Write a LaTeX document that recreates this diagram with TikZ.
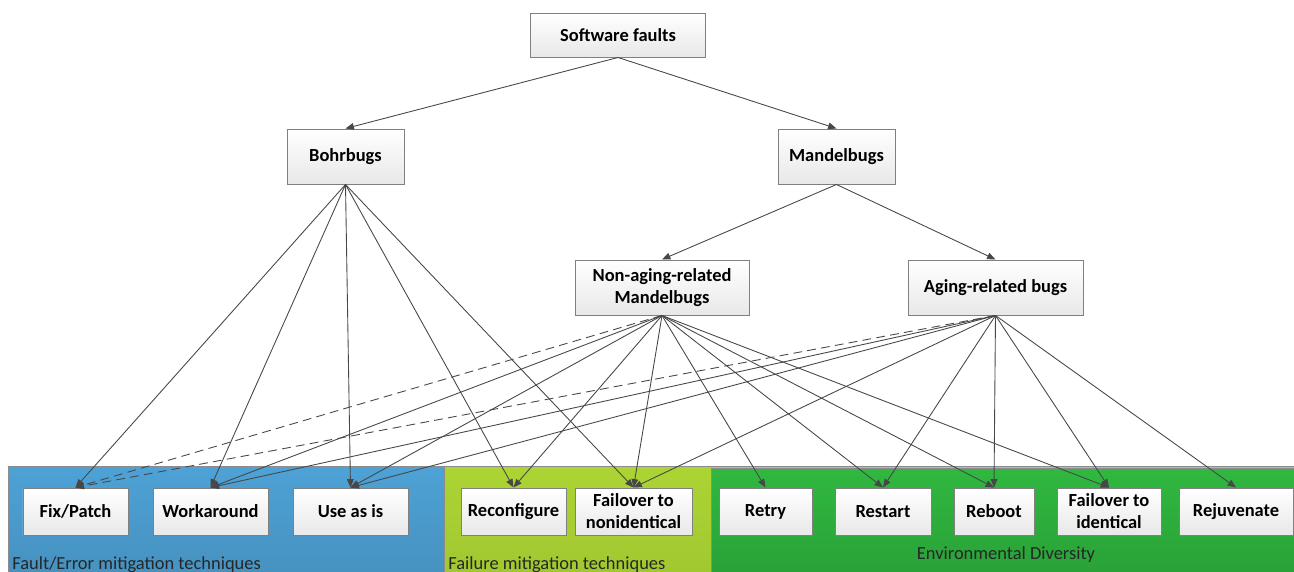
\documentclass[tikz,border=0pt]{standalone}
\usepackage{fontspec}
\setmainfont{Carlito}
\usetikzlibrary{arrows.meta}

\definecolor{faultblue}{RGB}{78,162,214}
\definecolor{failgreen}{RGB}{172,212,52}
\definecolor{envgreen}{RGB}{48,184,64}

\begin{document}
\begin{tikzpicture}[
  >={Triangle[length=4.8pt,width=3.8pt]},
  bug/.style={draw=black!50, line width=0.55pt, top color=white, bottom color=black!9,
    minimum height=1.1cm, align=center, inner sep=1pt,
    font=\bfseries\fontsize{10.5}{12.5}\selectfont},
  remedy/.style={bug, minimum height=0.94cm},
  link/.style={->, draw=black!72, line width=0.5pt},
  weak/.style={link, dash pattern=on 5pt off 3pt},
  zone/.style={font=\fontsize{10.5}{12}\selectfont, text=black!85, inner sep=0pt}
]
\useasboundingbox (0,0) rectangle (25.88,11.42);

% panels
\shadedraw[draw=black!45, top color=faultblue, bottom color=faultblue!88!black] (0.16,-0.5) rectangle (8.88,2.1);
\shadedraw[draw=black!45, top color=failgreen, bottom color=failgreen!93!black] (8.88,-0.5) rectangle (26.3,2.1);
\shadedraw[draw=black!45, top color=envgreen, bottom color=envgreen!85!black] (14.22,-0.5) rectangle (26.3,2.05);

\node[zone, anchor=base west] (fe) at (0.24,0.04) {Fault/Error mitigation techniques};
\node[zone, anchor=base west] (fm) at (8.96,0.04) {Failure mitigation techniques};
\node[zone, anchor=base] (ed) at (20.12,0.24) {Environmental Diversity};

% fault classes
\node[bug, minimum width=3.5cm, minimum height=0.88cm] (sw) at (12.36,10.72) {Software faults};
\node[bug, minimum width=2.34cm] (bohr) at (6.91,8.29) {Bohrbugs};
\node[bug, minimum width=2.34cm] (mandel) at (16.73,8.29) {Mandelbugs};
\node[bug, minimum width=3.48cm] (nonaging) at (13.24,5.67) {Non-aging-related\\Mandelbugs};
\node[bug, minimum width=3.5cm] (aging) at (19.91,5.67) {Aging-related bugs};

% techniques
\node[remedy, minimum width=2.1cm] (patch) at (1.51,1.19) {Fix/Patch};
\node[remedy, minimum width=2.3cm] (workaround) at (4.21,1.19) {Workaround};
\node[remedy, minimum width=2.3cm] (useasis) at (7.01,1.19) {Use as is};
\node[remedy, minimum width=2.1cm] (reconf) at (10.27,1.19) {Reconfigure};
\node[remedy, minimum width=2.34cm] (nonident) at (12.67,1.19) {Failover to\\nonidentical};
\node[remedy, minimum width=1.86cm] (retry) at (15.31,1.19) {Retry};
\node[remedy, minimum width=1.92cm] (restart) at (17.66,1.19) {Restart};
\node[remedy, minimum width=1.6cm] (reboot) at (19.88,1.19) {Reboot};
\node[remedy, minimum width=2.08cm] (ident) at (22.18,1.19) {Failover to\\identical};
\node[remedy, minimum width=2.28cm] (rejuv) at (24.72,1.19) {Rejuvenate};

\draw[link] (sw.south) -- (bohr.north);
\draw[link] (sw.south) -- (mandel.north);
\draw[link] (mandel.south) -- (nonaging.north);
\draw[link] (mandel.south) -- (aging.north);

\foreach \t in {patch,workaround,useasis,reconf,nonident}
  \draw[link] (bohr.south) -- (\t.north);

\draw[weak] (nonaging.south) -- (patch.north);
\foreach \t in {workaround,useasis,reconf,nonident,retry,restart,reboot,ident}
  \draw[link] (nonaging.south) -- (\t.north);

\draw[weak] (aging.south) -- (patch.north);
\foreach \t in {workaround,useasis,nonident,restart,reboot,ident,rejuv}
  \draw[link] (aging.south) -- (\t.north);

\end{tikzpicture}
\end{document}
